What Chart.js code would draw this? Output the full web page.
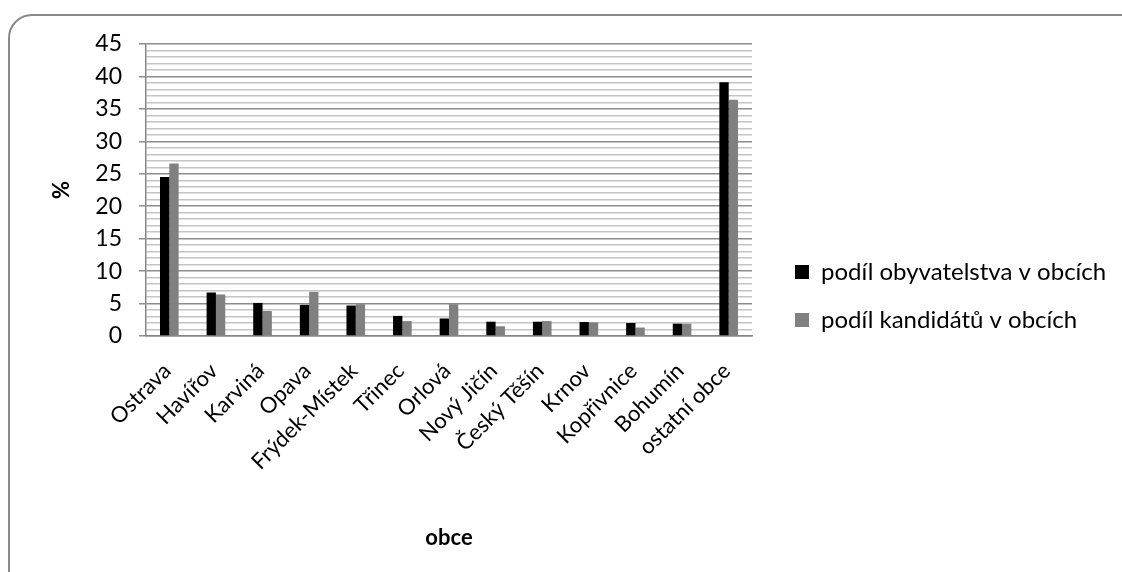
<!DOCTYPE html>
<html>
<head>
<meta charset="utf-8">
<script src="https://cdn.jsdelivr.net/npm/chart.js@4.4.1/dist/chart.umd.min.js"></script>
<style>
  body { margin: 0; overflow: hidden; background: #fff; }
  #frame {
    position: absolute; left: 8px; top: 14px; width: 1140px; height: 590px;
    border: 2px solid #888; border-radius: 24px;
  }
  #wrap { position: absolute; left: 0; top: 0; width: 1122px; height: 572px; }
</style>
</head>
<body>
<div id="frame"></div>
<div id="wrap"><canvas id="podilChart" width="1122" height="572"></canvas></div>
<script>
const obce = ["Ostrava", "Havířov", "Karviná", "Opava", "Frýdek-Místek", "Třinec", "Orlová",
  "Nový Jičín", "Český Těšín", "Krnov", "Kopřivnice", "Bohumín", "ostatní obce"];
const podilObyvatelstva = [24.5, 6.7, 5.1, 4.8, 4.7, 3.1, 2.7, 2.2, 2.2, 2.15, 2.0, 1.9, 39.1];
const podilKandidatu = [26.6, 6.4, 3.85, 6.8, 4.9, 2.3, 4.9, 1.5, 2.3, 2.1, 1.3, 1.9, 36.4];
const yMax = 45;

const font = "Lato";

// legenda se kresli vpravo od grafu, posuneme ji po layoutu
const legendPos = {
  id: "legendPos",
  afterLayout(chart) {
    const lg = chart.legend;
    if (!lg) return;
    lg.left = 771; lg.right = 1122;
    lg.top = 236; lg.bottom = 572;
    lg.width = lg.right - lg.left;
    lg.height = lg.bottom - lg.top;
  }
};

const ctx = document.getElementById("podilChart").getContext("2d");
new Chart(ctx, {
  type: "bar",
  data: {
    labels: obce,
    datasets: [
      { label: "podíl obyvatelstva v obcích", data: podilObyvatelstva, backgroundColor: "#000000" },
      { label: "podíl kandidátů v obcích", data: podilKandidatu, backgroundColor: "#808080" }
    ]
  },
  options: {
    responsive: false,
    animation: false,
    layout: { padding: { top: 44, right: 370, bottom: 0, left: 0 } },
    datasets: { bar: { categoryPercentage: 0.4, barPercentage: 1.0 } },
    scales: {
      x: {
        afterFit(scale) { scale.height = 236; },
        grid: { display: false },
        border: { display: true, color: "#868686", width: 1.5 },
        ticks: {
          autoSkip: false,
          minRotation: 45, maxRotation: 45,
          padding: 14, labelOffset: -2,
          color: "#000",
          font: { family: font, size: 22 }
        },
        title: {
          display: true, text: "obce", color: "#000",
          font: { family: font, size: 22, weight: "bold" },
          padding: { top: 0, bottom: 21 }
        }
      },
      y: {
        min: 0, max: yMax,
        afterFit(scale) { scale.width = 146; },
        grid: {
          color: (c) => (c.tick && c.tick.value % 5 === 0) ? "#8c8c8c" : "#c4c4c4",
          lineWidth: 1.5,
          tickColor: (c) => (c.tick && c.tick.value % 5 === 0) ? "#8c8c8c" : "rgba(0,0,0,0)",
          tickLength: 7
        },
        border: { display: true, color: "#868686", width: 1.5 },
        ticks: {
          stepSize: 1, autoSkip: false,
          padding: 17,
          color: "#000",
          font: { family: font, size: 23 },
          callback: (v) => (v % 5 === 0 ? v : "")
        },
        title: {
          display: true, text: "%", color: "#000",
          font: { family: font, size: 22, weight: "bold" },
          padding: { top: 49, bottom: 0 }
        }
      }
    },
    plugins: {
      tooltip: { enabled: false },
      legend: {
        position: "chartArea",
        align: "start",
        labels: {
          boxWidth: 14, boxHeight: 14, padding: 24,
          color: "#000",
          font: { family: font, size: 24 }
        }
      }
    }
  },
  plugins: [legendPos]
});
</script>
</body>
</html>
